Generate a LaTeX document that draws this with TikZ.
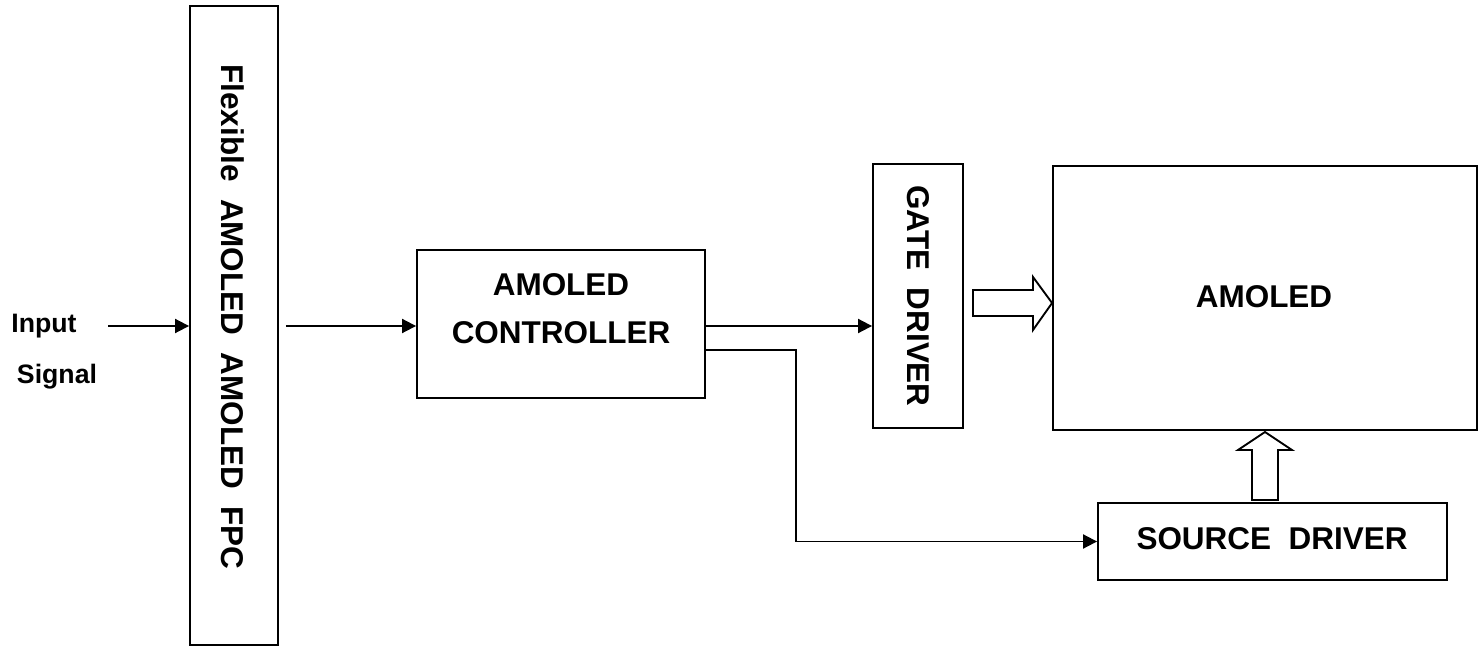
\documentclass[tikz,border=0pt]{standalone}
\usepackage{fontspec}
\setmainfont{Liberation Sans}
\usetikzlibrary{arrows.meta}
\begin{document}
\begin{tikzpicture}[x=0.75pt,y=-0.75pt,
  box/.style={draw,line width=1.4pt,inner sep=0pt,minimum width=#1},
  lbl/.style={font=\fontsize{23.6}{36}\selectfont\bfseries,align=center,inner sep=0pt},
  small/.style={font=\fontsize{20}{24}\selectfont\bfseries,inner sep=0pt},
  arr/.style={line width=1.4pt,-{Triangle[length=10.5pt,width=10.5pt]}},
  hollow/.style={draw,line width=1.4pt,fill=white,line join=miter}]
\useasboundingbox (0,0) rectangle (1484,648);
% boxes
\node[box=66pt,minimum height=479.25pt] (fpc) at (234,325.5) {};
\node[box=216pt,minimum height=111pt] (ctrl) at (561,324) {};
\node[box=67.5pt,minimum height=198pt] (gate) at (918,296) {};
\node[box=318pt,minimum height=198pt] (amol) at (1265,298) {};
\node[box=261.75pt,minimum height=57.75pt] (src) at (1272.5,541.5) {};
% texts
\node[lbl,rotate=-90] (fpct) at (233,317) {Flexible\ \ AMOLED\ \ AMOLED\ \ FPC};
\node[lbl] (ctrlt) at (561,309) {AMOLED\\CONTROLLER};
\node[lbl,rotate=-90] (gatet) at (918,296) {GATE\ \ DRIVER};
\node[lbl] (amolt) at (1264,297) {AMOLED};
\node[lbl] (srct) at (1272,539) {SOURCE\ \ DRIVER};
\node[small] (in1) at (44,326) {Input};
\node[small] (in2) at (57,377) {Signal};
% connectors
\coordinate (instart) at (108,326);
\coordinate (cg) at ([yshift=-1.5pt]ctrl.east);
\draw[arr] (instart) -- (fpc.west |- instart);
\draw[arr,shorten <=5.25pt] (fpc.east |- instart) -- (ctrl.west |- instart);
\draw[arr] (cg) -- (gate.west |- cg);
\draw[arr] ([yshift=-19.5pt]ctrl.east) -- ++(90,0) |- (src.west);
% hollow arrows
\draw[hollow] (973,290) -- (1033,290) -- (1033,277) -- (amol.west |- 0,303) -- (1033,330) -- (1033,316) -- (973,316) -- cycle;
\draw[hollow] (1252,500) -- (1252,450) -- (1238,450) -- (1265,432) -- (1292,450) -- (1278,450) -- (1278,500) -- cycle;
\end{tikzpicture}
\end{document}
